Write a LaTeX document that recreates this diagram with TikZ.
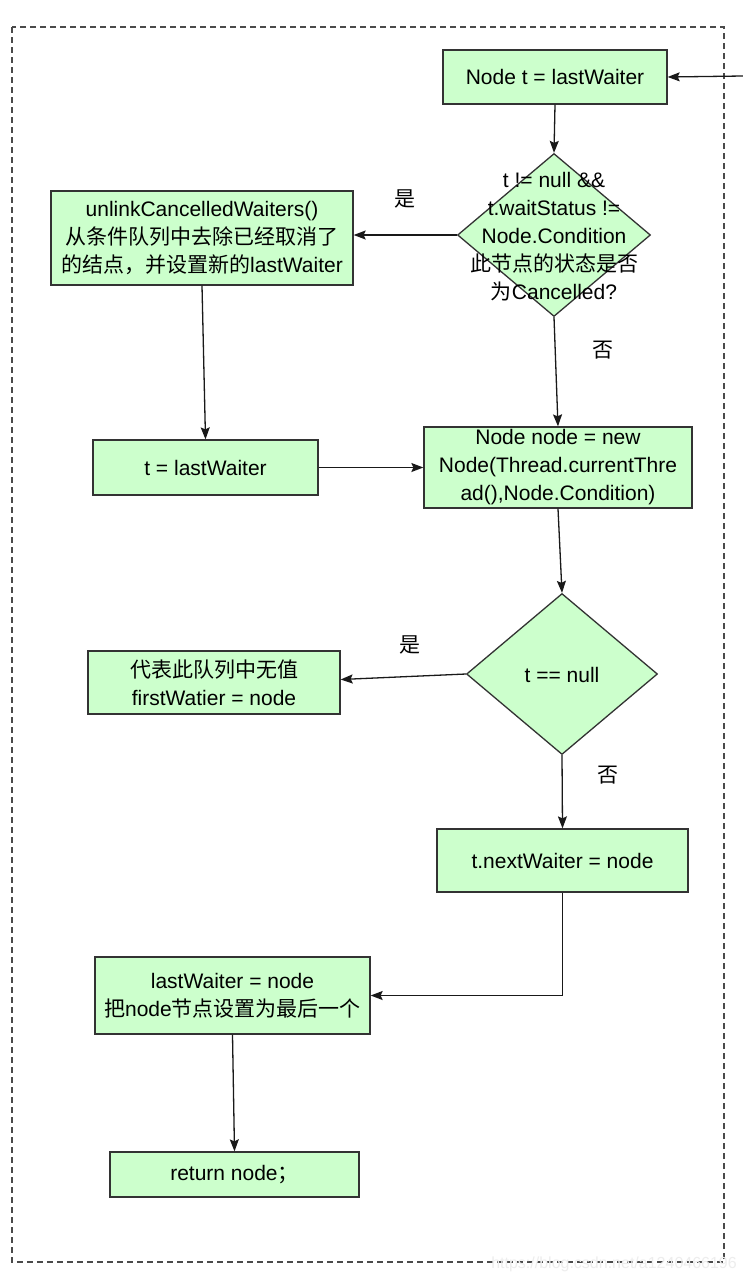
\documentclass[tikz,border=0pt]{standalone}
\usepackage{fontspec}
\setmainfont{Liberation Sans}
\newfontfamily\cjk{Noto Sans CJK SC}
\usetikzlibrary{shapes.geometric,arrows.meta,calc}
\definecolor{boxg}{HTML}{CCFFCC}
\definecolor{linec}{HTML}{333333}
\definecolor{dashc}{HTML}{4A4A4A}
\newcommand\myfs{\fontsize{21}{28}\selectfont}
\tikzset{
  box/.style={draw=linec, fill=boxg, line width=1.3pt, inner sep=0pt, align=center, font=\myfs},
  dia/.style={shape=diamond, draw=linec, fill=boxg, line width=1.3pt, inner sep=0pt},
  arr/.style={draw=black!90, line width=1.3pt, -{Stealth[length=12pt,width=9pt,inset=2pt]}},
  lbl/.style={font=\myfs\cjk, inner sep=0pt},
}
\begin{document}
\begin{tikzpicture}[x=1pt,y=-1pt]
\useasboundingbox (0,0) rectangle (743,1280);
\fill[white] (0,0) rectangle (743,1280);
\draw[dashc, line width=1.1pt, dash pattern=on 6pt off 4pt] (12,27) rectangle (724,1262);

% nodes
\node[box, minimum width=224pt, minimum height=54pt] (top) at (555,77) {Node t = lastWaiter};
\node[dia, minimum width=193pt, minimum height=163pt] (d1) at (554,235) {};
\node[align=center, font=\myfs, inner sep=0pt] (d1t) at (554,237) {t != null \&\&\\t.waitStatus !=\\Node.Condition\\{\cjk 此节点的状态是否}\\{\cjk 为}Cancelled?};
\node[box, minimum width=302pt, minimum height=94pt] (u) at (202,238) {unlinkCancelledWaiters()\\{\cjk 从条件队列中去除已经取消了}\\{\cjk 的结点，并设置新的}lastWaiter};
\node[box, minimum width=225pt, minimum height=55pt] (tl) at (205.5,467.5) {t = lastWaiter};
\node[box, minimum width=268pt, minimum height=81pt] (nn) at (558,467.5) {Node node = new\\Node(Thread.currentThre\\ad(),Node.Condition)};
\node[dia, minimum width=191pt, minimum height=161pt] (d2) at (562,674) {};
\node[font=\myfs, inner sep=0pt] (d2t) at (562,675) {t == null};
\node[box, minimum width=252pt, minimum height=63pt] (cf) at (214,682.5) {{\cjk 代表此队列中无值}\\firstWatier = node};
\node[box, minimum width=251pt, minimum height=63pt] (nw) at (562.5,860.5) {t.nextWaiter = node};
\node[box, minimum width=275pt, minimum height=77pt] (lw) at (232.5,995.5) {lastWaiter = node\\{\cjk 把}node{\cjk 节点设置为最后一个}};
\node[box, minimum width=249pt, minimum height=45pt] (ret) at (234.5,1174.5) {return node{\cjk ；}};

% labels
\node[lbl] (y1) at (405,199) {是};
\node[lbl] (n1) at (603,350) {否};
\node[lbl] (y2) at (410,645) {是};
\node[lbl] (n2) at (608,775) {否};

% watermark
\node[font=\fontsize{16}{18}\selectfont, text=black!7, anchor=east, inner sep=0pt] (wm) at (737,1264) {https://blog.csdn.net/a1240466196};

% connectors
\coordinate (ent) at (743,76);
\draw[arr] (ent) -- (top.east);
\draw[arr] (top.south) -- (d1.north);
\draw[arr] (d1.west) -- (d1.west -| u.east);
\draw[arr] (u.south) -- (tl.north);
\draw[arr] (d1.south) -- (nn.north);
\draw[arr] (tl.east) -- (nn.west);
\draw[arr] (nn.south) -- (d2.north);
\draw[arr] (d2.west) -- ([yshift=3pt]cf.east);
\draw[arr] (d2.south) -- (nw.north);
\draw[arr] (nw.south) |- (lw.east);
\draw[arr] (lw.south) -- (ret.north);
\end{tikzpicture}
\end{document}
